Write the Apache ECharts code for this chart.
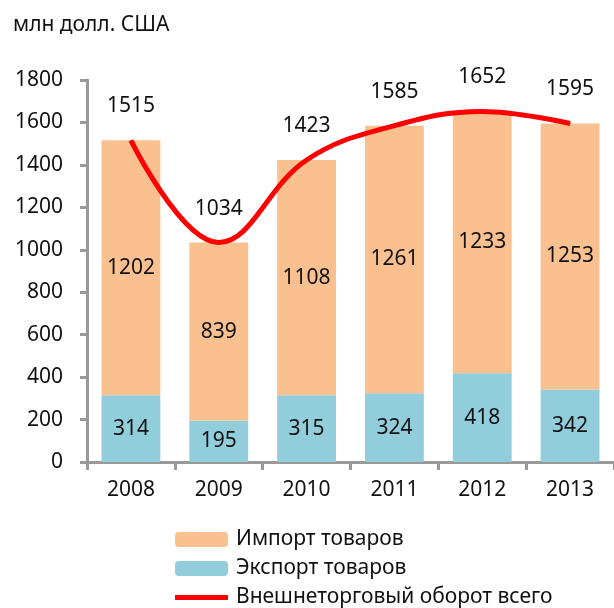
<!DOCTYPE html>
<html>
<head>
<meta charset="utf-8">
<script src="https://cdn.jsdelivr.net/npm/echarts@6/dist/echarts.min.js"></script>
<style>
  html, body { margin: 0; padding: 0; background: #fff; }
  #main { width: 614px; height: 608px; }
</style>
</head>
<body>
<div id="main"></div>
<script>
const years = ['2008', '2009', '2010', '2011', '2012', '2013'];
const exportVals = [314, 195, 315, 324, 418, 342];
const importVals = [1202, 839, 1108, 1261, 1233, 1253];
const totalVals = [1515, 1034, 1423, 1585, 1652, 1595];

const font = 'Noto Sans';
const fs = 21;
const myChart = echarts.init(document.getElementById('main'));

const option = {
    animation: false,
    textStyle: {fontFamily: font},
    title: {
        text: 'млн долл. США',
        left: 8,
        top: 10,
        textStyle: {fontFamily: font, fontSize: fs, fontWeight: 'normal', color: '#111'}
    },
    legend: {
        orient: 'vertical',
        left: 175,
        top: 529,
        padding: 0,
        itemWidth: 53,
        itemHeight: 15,
        itemGap: 8,
        textStyle: {fontFamily: font, fontSize: fs, lineHeight: 21, color: '#111', padding: [0, 0, 0, 3]},
        data: [
            'Импорт товаров',
            'Экспорт товаров',
            {name: 'Внешнеторговый оборот всего', icon: 'path://M0,0H53V5H0Z'}
        ]
    },
    grid: {left: 87, top: 80, bottom: 146, right: -7},
    xAxis: {
        type: 'category',
        data: years,
        axisLine: {lineStyle: {color: '#999', width: 3}},
        axisTick: {show: true, length: 8, lineStyle: {color: '#999', width: 3}},
        axisLabel: {fontFamily: font, fontSize: fs, color: '#111', margin: 18}
    },
    yAxis: {
        type: 'value',
        min: 0,
        max: 1800,
        interval: 200,
        splitLine: {show: false},
        axisLine: {show: true, lineStyle: {color: '#999', width: 3}},
        axisTick: {show: true, length: 7, lineStyle: {color: '#999', width: 3}},
        axisLabel: {
            fontFamily: font, fontSize: fs, color: '#111', margin: 24,
            formatter: function (v) { return String(v); }
        }
    },
    series: [
        {
            name: 'Экспорт товаров',
            type: 'bar',
            stack: 'trade',
            barWidth: '67%',
            itemStyle: {color: '#92CDDC'},
            label: {show: true, position: 'inside', fontFamily: font, fontSize: fs, color: '#111'},
            data: exportVals
        },
        {
            name: 'Импорт товаров',
            type: 'bar',
            stack: 'trade',
            barWidth: '67%',
            itemStyle: {color: '#FAC090'},
            label: {show: true, position: 'inside', fontFamily: font, fontSize: fs, color: '#111'},
            data: importVals
        },
        {
            name: 'Внешнеторговый оборот всего',
            type: 'line',
            smooth: 0.4,
            symbol: 'circle',
            symbolSize: 1,
            lineStyle: {color: '#FF0000', width: 5},
            itemStyle: {color: '#FF0000'},
            label: {show: true, position: 'top', distance: 23, fontFamily: font, fontSize: fs, color: '#111'},
            data: totalVals
        }
    ]
};

myChart.setOption(option);
</script>
</body>
</html>
